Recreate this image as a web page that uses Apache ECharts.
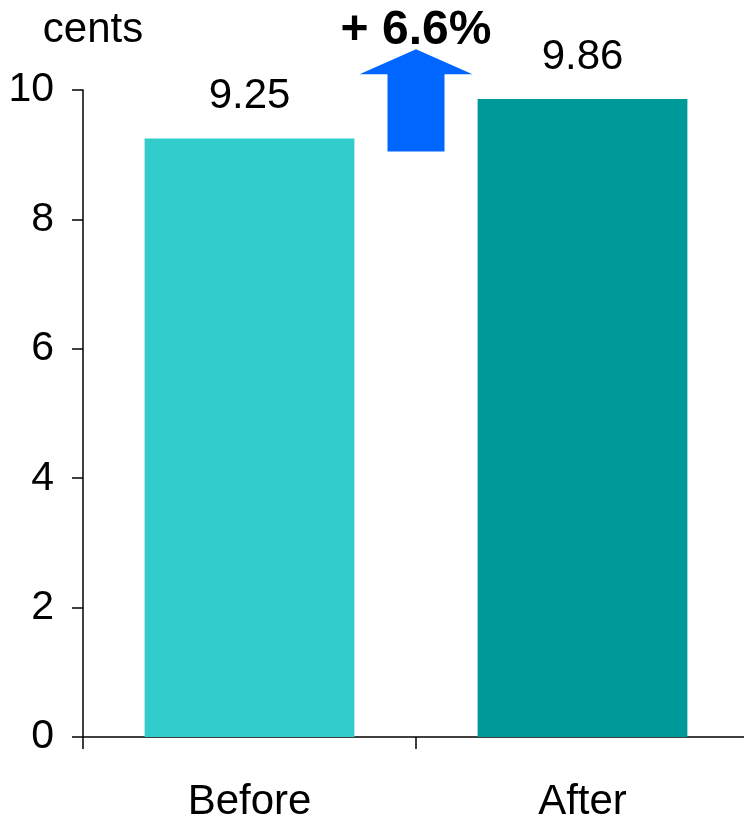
<!DOCTYPE html>
<html>
<head>
<meta charset="utf-8">
<script src="https://cdn.jsdelivr.net/npm/echarts@6/dist/echarts.min.js"></script>
<style>
  html, body { margin: 0; padding: 0; background: #fff; }
  #chart { width: 744px; height: 818px; }
</style>
</head>
<body>
<div id="chart"></div>
<script>
// Price per unit, before and after the change
const categories = ['Before', 'After'];
const values = [9.25, 9.86];
const yTicks = { min: 0, max: 10, interval: 2 };
const unitLabel = 'cents';
const changeLabel = '+ 6.6%';
// arrow spans from this value up to the tip value, between the two bars
const arrowFrom = 9.05;
const arrowTo = 10.63;

const barColors = ['#33CCCC', '#009999'];
const FONT = '"Liberation Sans", Arial, sans-serif';

const chart = echarts.init(document.getElementById('chart'), null, { renderer: 'canvas' });

chart.setOption({
  animation: false,
  backgroundColor: '#ffffff',
  grid: { left: 83, width: 666, top: 90, bottom: 81, containLabel: false, outerBoundsMode: 'none' },
  xAxis: {
    type: 'category',
    data: categories,
    axisLine: { lineStyle: { color: '#000', width: 1.5 } },
    axisTick: { show: true, length: 12, lineStyle: { color: '#000', width: 1.5 } },
    axisLabel: { color: '#000', fontSize: 42, fontFamily: FONT, margin: 44 }
  },
  yAxis: {
    type: 'value',
    min: yTicks.min, max: yTicks.max, interval: yTicks.interval,
    name: unitLabel,
    nameLocation: 'end',
    nameGap: 39,
    nameTextStyle: { color: '#000', fontSize: 42, fontFamily: FONT, align: 'center', padding: [0, 0, 0, 20] },
    axisLine: { show: true, lineStyle: { color: '#000', width: 1.5 } },
    axisTick: { show: true, length: 11, lineStyle: { color: '#000', width: 1.5 } },
    splitLine: { show: false },
    axisLabel: { color: '#000', fontSize: 41, fontFamily: FONT, margin: 29 }
  },
  series: [{
    type: 'bar',
    barWidth: '63%',
    data: values.map((v, i) => ({ value: v, itemStyle: { color: barColors[i] } })),
    label: {
      show: true, position: 'top', distance: 21,
      color: '#000', fontSize: 42, fontFamily: FONT,
      formatter: p => p.value.toFixed(2)
    }
  }]
});

// Up arrow and percentage change, placed between the two bars
function drawArrow() {
  const p0 = chart.convertToPixel({ gridIndex: 0 }, [0, arrowFrom]);
  const p1 = chart.convertToPixel({ gridIndex: 0 }, [1, arrowTo]);
  const cx = (p0[0] + p1[0]) / 2;
  const yBottom = p0[1];
  const yTip = p1[1];
  const shaftHalf = 28.5, headHalf = 56.5, headH = 25;
  const yHead = yTip + headH;
  chart.setOption({
    graphic: [
      {
        type: 'polygon',
        shape: {
          points: [
            [cx - shaftHalf, yBottom], [cx - shaftHalf, yHead], [cx - headHalf, yHead],
            [cx, yTip], [cx + headHalf, yHead], [cx + shaftHalf, yHead], [cx + shaftHalf, yBottom]
          ]
        },
        style: { fill: '#0066FF' },
        z: 10
      },
      {
        type: 'text',
        x: cx, y: yTip + 6,
        style: {
          text: changeLabel, fill: '#000', font: 'bold 48px ' + FONT,
          align: 'center', verticalAlign: 'bottom'
        },
        z: 11
      }
    ]
  });
}
drawArrow();
</script>
</body>
</html>
